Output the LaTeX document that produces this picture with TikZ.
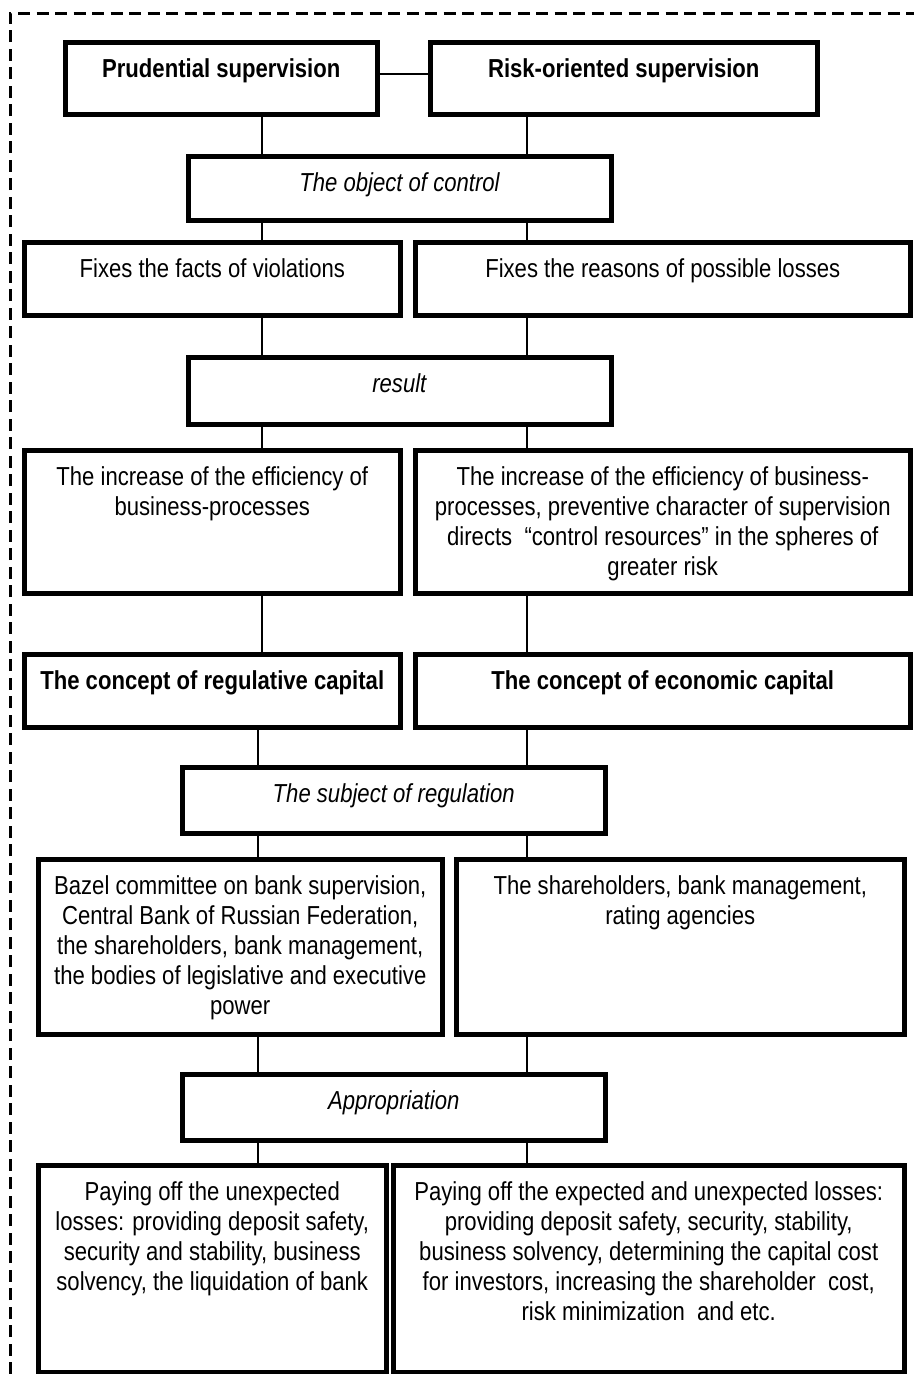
\documentclass[tikz,border=0pt]{standalone}
\usepackage{fontspec}
\setmainfont[FakeStretch=0.85]{Liberation Sans}
\usepackage{tikz}

\newcommand{\celltext}[3]{\parbox[t][#2pt][t]{#1pt}{\centering\rule{0pt}{35pt}#3}}

\begin{document}
\begin{tikzpicture}[x=1pt, y=-1pt, font=\fontsize{26}{30}\selectfont,
  cell/.style={draw, line width=4.5pt, inner sep=0pt, anchor=north west},
  link/.style={line width=1.6pt}]
  \useasboundingbox (0,0) rectangle (914,1374);

  % Dashed frame
  \draw[line width=3pt, dash pattern=on 12pt off 6.5pt] (10,1374) -- (10,13) -- (914,13);

  % Supervision boxes
  \node[cell] (prud) at (63,40) {\celltext{312}{72}{\textbf{Prudential supervision}}};
  \node[cell] (risk) at (428,40) {\celltext{387}{72}{\textbf{Risk-oriented supervision}}};
  \node[cell] (obj) at (186,154) {\celltext{423}{64}{\textit{The object of control}}};
  \node[cell] (facts) at (22,240) {\celltext{376}{73}{Fixes the facts of violations}};
  \node[cell] (reasons) at (413,240) {\celltext{495}{73}{Fixes the reasons of possible losses}};
  \node[cell] (result) at (186,355) {\celltext{423}{67}{\textit{result}}};
  \node[cell] (effl) at (22,448) {\celltext{376}{143}{The increase of the efficiency of\\business-processes}};
  \node[cell] (effr) at (413,448) {\celltext{495}{143}{The increase of the efficiency of business-\\processes, preventive character of supervision\\directs\ \ “control resources” in the spheres of\\greater risk}};

  % Capital boxes
  \node[cell] (regcap) at (22,652) {\celltext{376}{73}{\textbf{The concept of regulative capital}}};
  \node[cell] (ecocap) at (413,652) {\celltext{495}{73}{\textbf{The concept of economic capital}}};
  \node[cell] (subj) at (180,765) {\celltext{423}{66}{\textit{The subject of regulation}}};
  \node[cell] (bazel) at (36,857) {\celltext{404}{175}{Bazel committee on bank supervision,\\Central Bank of Russian Federation,\\the shareholders, bank management,\\the bodies of legislative and executive\\power}};
  \node[cell] (share) at (454,857) {\celltext{448}{175}{The shareholders, bank management,\\rating agencies}};
  \node[cell] (approp) at (180,1072) {\celltext{423}{66}{\textit{Appropriation}}};
  \node[cell] (payl) at (36,1163) {\celltext{348}{207}{Paying off the unexpected\\losses: providing deposit safety,\\security and stability, business\\solvency, the liquidation of bank}};
  \node[cell] (payr) at (391,1163) {\celltext{511}{207}{Paying off the expected and unexpected losses:\\providing deposit safety, security, stability,\\business solvency, determining the capital cost\\for investors, increasing the shareholder\ \ cost,\\risk minimization\ \ and etc.}};

  % Columns of the connectors
  \coordinate (cl) at (262,0);
  \coordinate (dl) at (258,0);
  \coordinate (cr) at (527,0);

  % Lines between boxes
  \draw[link] ([yshift=4pt]prud.east) -- ([yshift=4pt]risk.west);
  \draw[link] (prud.south -| cl) -- (obj.north -| cl);
  \draw[link] (risk.south -| cr) -- (obj.north -| cr);
  \draw[link] (obj.south -| cl) -- (facts.north -| cl);
  \draw[link] (obj.south -| cr) -- (reasons.north -| cr);
  \draw[link] (facts.south -| cl) -- (result.north -| cl);
  \draw[link] (reasons.south -| cr) -- (result.north -| cr);
  \draw[link] (result.south -| cl) -- (effl.north -| cl);
  \draw[link] (result.south -| cr) -- (effr.north -| cr);
  \draw[link] (effl.south -| cl) -- (regcap.north -| cl);
  \draw[link] (effr.south -| cr) -- (ecocap.north -| cr);
  \draw[link] (regcap.south -| dl) -- (subj.north -| dl);
  \draw[link] (ecocap.south -| cr) -- (subj.north -| cr);
  \draw[link] (subj.south -| dl) -- (bazel.north -| dl);
  \draw[link] (subj.south -| cr) -- (share.north -| cr);
  \draw[link] (bazel.south -| dl) -- (approp.north -| dl);
  \draw[link] (share.south -| cr) -- (approp.north -| cr);
  \draw[link] (approp.south -| dl) -- (payl.north -| dl);
  \draw[link] (approp.south -| cr) -- (payr.north -| cr);
\end{tikzpicture}
\end{document}
